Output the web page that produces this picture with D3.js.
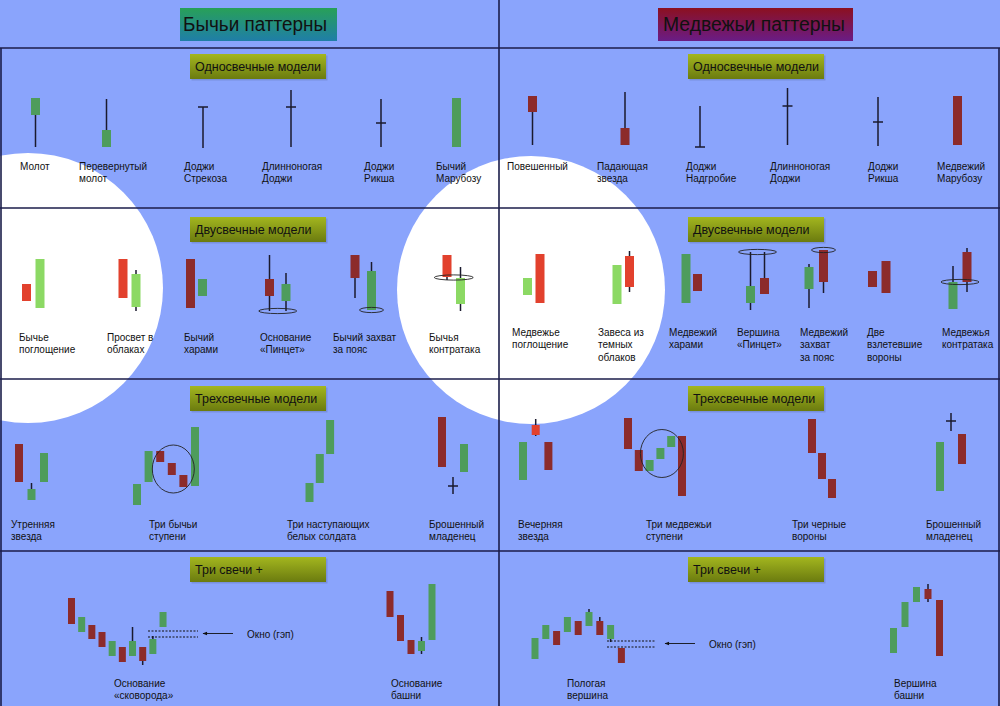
<!DOCTYPE html>
<html>
<head>
<meta charset="utf-8">
<script src="https://cdn.jsdelivr.net/npm/d3@7"></script>
<style>
  body { margin: 0; background: #8aa4fc; }
  svg { display: block; }
  text { font-family: "Liberation Sans", Arial, Helvetica, sans-serif; fill: #111; }
</style>
</head>
<body>
<svg id="chart"></svg>
<script>
var width = 1000;
var height = 706;

var sideTitles = ["Бычьи паттерны", "Медвежьи паттерны"];
var sectionTitles = ["Односвечные модели", "Двусвечные модели", "Трехсвечные модели", "Три свечи +"];
var gapLabel = "Окно (гэп)";

// each candle is [open, high, low, close]
var bullSingleNames = ["Молот", "Перевернутый\nмолот", "Доджи\nСтрекоза", "Длинноногая\nДоджи", "Доджи\nРикша", "Бычий\nМарубозу"];
var bullSingle = [
  [[35, 52, 3, 52]],
  [[3, 51, 3, 20]],
  [[43, 43, 2, 43]],
  [[43, 60, 3, 43]],
  [[27, 51, 3, 27]],
  [[3, 52, 3, 52]]
];

var bearSingleNames = ["Повешенный", "Падающая\nзвезда", "Доджи\nНадгробие", "Длинноногая\nДоджи", "Доджи\nРикша", "Медвежий\nМарубозу"];
var bearSingle = [
  [[54, 54, 5, 38]],
  [[22, 58, 5, 5]],
  [[3, 44, 3, 3]],
  [[44, 62, 5, 44]],
  [[28, 53, 4, 28]],
  [[54, 54, 5, 5]]
];

var bullDoubleNames = ["Бычье\nпоглощение", "Просвет в\nоблаках", "Бычий\nхарами", "Основание\n«Пинцет»", "Бычий захват\nза пояс", "Бычья\nконтратака"];
var bullDouble = [
  [[31, 31, 14, 14], [7, 56, 7, 56]],
  [[56, 56, 17, 17], [8, 45, 4, 41]],
  [[56, 56, 7, 7], [19, 36, 19, 36]],
  [[36, 60, 4, 19], [14, 42, 4, 31]],
  [[60, 60, 17, 37], [5, 53, 5, 44]],
  [[60, 60, 35, 38], [11, 48, 4, 37]]
];

var bearDoubleNames = ["Медвежье\nпоглощение", "Завеса из\nтемных\nоблаков", "Медвежий\nхарами", "Вершина\n«Пинцет»", "Медвежий\nзахват\nза пояс", "Две\nвзлетевшие\nвороны", "Медвежья\nконтратака"];
var bearDouble = [
  [[20, 37, 20, 37], [61, 61, 12, 12]],
  [[11, 50, 11, 50], [59, 64, 23, 28]],
  [[12, 61, 12, 61], [41, 41, 24, 24]],
  [[12, 63, 5, 29], [37, 63, 21, 21]],
  [[26, 51, 7, 48], [65, 65, 22, 33]],
  [[44, 44, 28, 28], [54, 54, 22, 22]],
  [[6, 49, 6, 33], [63, 67, 23, 33]]
];

var bullTripleNames = ["Утренняя\nзвезда", "Три бычьи\nступени", "Три наступающих\nбелых солдата", "Брошенный\nмладенец"];
var bullTriple = [
  [[61, 61, 23, 23], [5, 22, 5, 16], [23, 52, 23, 52]],
  [[0, 21, 0, 21], [23, 54, 23, 54], [54, 54, 43, 43], [42, 42, 30, 30], [30, 30, 18, 18], [19, 78, 19, 78]],
  [[3, 22, 3, 22], [22, 51, 22, 51], [51, 85, 51, 85]],
  [[88, 88, 38, 38], [19, 28, 11, 19], [33, 61, 33, 61]]
];

var bearTripleNames = ["Вечерняя\nзвезда", "Три медвежьи\nступени", "Три черные\nвороны", "Брошенный\nмладенец"];
var bearTriple = [
  [[25, 63, 25, 63], [80, 86, 69, 70], [63, 63, 35, 35]],
  [[87, 87, 56, 56], [55, 55, 34, 34], [34, 45, 34, 45], [46, 57, 46, 57], [58, 69, 58, 69], [69, 69, 9, 9]],
  [[86, 86, 52, 52], [52, 52, 26, 26], [26, 26, 7, 7]],
  [[14, 63, 14, 63], [84, 92, 74, 84], [71, 71, 41, 41]]
];

var bullMultiNames = ["Основание\n«сковорода»", "Основание\nбашни"];
var bullMulti = [
  [[72, 72, 46, 46], [38, 53, 38, 53], [45, 45, 31, 31], [38, 38, 23, 23], [14, 29, 14, 29],
   [23, 23, 8, 8], [14, 43, 14, 29], [23, 23, 5, 9], [16, 34, 16, 31], [43, 58, 43, 58]],
  [[79, 79, 53, 53], [55, 55, 29, 29], [30, 30, 16, 16], [19, 33, 16, 29], [30, 86, 30, 86]]
];

var bearMultiNames = ["Пологая\nвершина", "Вершина\nбашни"];
var bearMulti = [
  [[11, 32, 11, 32], [31, 45, 31, 45], [39, 39, 25, 25], [38, 53, 38, 53], [49, 49, 35, 35],
   [44, 61, 44, 58], [49, 53, 35, 35], [31, 45, 28, 45], [22, 22, 7, 7]],
  [[17, 42, 17, 42], [43, 68, 43, 68], [68, 83, 68, 83], [81, 86, 68, 71], [70, 70, 14, 14]]
];

// gap levels (upper, lower) of the "window"
var bullGap = [39, 33];
var bearGap = [29, 23];

// ---------- layout ----------
var bg = "#8aa4fc";
var lineColor = "#1b1d4a";
var wickColor = "#1a1a2e";
var colors = { bull: "#4e9c5c", bullLight: "#8cd964", bear: "#8c2b2b", bearLight: "#e2412d" };
var whiteSpots = [[28, 288, 135], [531, 290, 134]];

var rowLines = [48, 208, 379, 551];
var rowBase = [150, 315, 505, 670];
var bodyW = [9, 9, 8, 7];
var sectionY = [54, 217, 386, 557];
var sectionX = [190, 688];
var labelY = [[170, 170], [341, 336], [528, 528], [687, 687]];

var groups = [
  { row: 0, side: 0, names: bullSingleNames, candles: bullSingle,
    x0: [35.5, 106.5, 203, 291, 381, 456.5], step: 12, labelX: [20, 79, 184, 262, 364, 436] },
  { row: 0, side: 1, names: bearSingleNames, candles: bearSingle,
    x0: [532.5, 625, 700, 787.5, 878, 957.5], step: 12, labelX: [507, 597, 686, 770, 868, 937] },
  { row: 1, side: 0, names: bullDoubleNames, candles: bullDouble,
    x0: [26.5, 123, 190.5, 269.5, 355, 447], step: [13.5, 13, 12, 16.5, 16.5, 13.5],
    labelX: [19, 107, 184, 260, 333, 429],
    marks: [{ i: 3, at: "low", rx: 19, pos: "mid" }, { i: 4, at: "low", rx: 12, pos: "last" }, { i: 5, at: "close", rx: 19.5, pos: "mid" }] },
  { row: 1, side: 1, names: bearDoubleNames, candles: bearDouble,
    x0: [527.5, 617, 686, 750.5, 809, 872.5, 953], step: [12.5, 12.5, 11.5, 14, 14.5, 13.5, 14],
    labelX: [512, 598, 669, 737, 800, 867, 942],
    marks: [{ i: 3, at: "high", rx: 19, pos: "mid" }, { i: 4, at: "high", rx: 12, pos: "last" }, { i: 6, at: "close", rx: 19, pos: "mid" }] },
  { row: 2, side: 0, names: bullTripleNames, candles: bullTriple,
    x0: [19, 137, 309.5, 442], step: [12.5, 11.6, 10.3, 11], labelX: [11, 149, 287, 429],
    ring: { i: 1, from: 2, to: 4, rx: 21, ry: 24 } },
  { row: 2, side: 1, names: bearTripleNames, candles: bearTriple,
    x0: [523, 628, 812, 940], step: [12.7, 10.8, 10, 11], labelX: [518, 646, 792, 926],
    ring: { i: 1, from: 2, to: 4, rx: 21.5, ry: 24 } },
  { row: 3, side: 0, names: bullMultiNames, candles: bullMulti,
    x0: [71.5, 390], step: [10.17, 10.5], labelX: [114, 391],
    gap: { i: 0, levels: bullGap, x0: 148, x1: 198, arrowFrom: 233, arrowTo: 203, labelX: 247 } },
  { row: 3, side: 1, names: bearMultiNames, candles: bearMulti,
    x0: [535, 893.5], step: [10.8, 11.5], labelX: [567, 894],
    gap: { i: 0, levels: bearGap, x0: 607, x1: 656, arrowFrom: 695, arrowTo: 665, labelX: 709 } }
];

var svg = d3.select("#chart")
    .attr("width", width)
    .attr("height", height);

var defs = svg.append("defs");
function vGrad(id, top, bottom) {
  var g = defs.append("linearGradient").attr("id", id)
      .attr("x1", 0).attr("y1", 0).attr("x2", 0).attr("y2", 1);
  g.append("stop").attr("offset", "0%").attr("stop-color", top);
  g.append("stop").attr("offset", "100%").attr("stop-color", bottom);
}
vGrad("gBull", "#28a058", "#1f7ea8");
vGrad("gBear", "#8c1020", "#6a1c86");
vGrad("gSection", "#a3b61f", "#6b7b0f");

defs.append("marker").attr("id", "arrow")
    .attr("viewBox", "0 0 10 10").attr("refX", 9).attr("refY", 5)
    .attr("markerWidth", 7).attr("markerHeight", 5).attr("orient", "auto")
  .append("path").attr("d", "M0,1L10,5L0,9Z").attr("fill", "#111");

svg.append("rect").attr("width", width).attr("height", height).attr("fill", bg);

svg.selectAll("circle.spot")
    .data(whiteSpots)
    .enter().append("circle")
    .attr("class", "spot")
    .attr("cx", function(d) { return d[0]; })
    .attr("cy", function(d) { return d[1]; })
    .attr("r", function(d) { return d[2]; })
    .attr("fill", "#ffffff");

function inSpot(x, y) {
  return whiteSpots.some(function(s) {
    return (x - s[0]) * (x - s[0]) + (y - s[1]) * (y - s[1]) <= s[2] * s[2];
  });
}

// grid
svg.selectAll("line.row")
    .data(rowLines)
    .enter().append("line")
    .attr("x1", 0).attr("x2", width)
    .attr("y1", function(d) { return d; })
    .attr("y2", function(d) { return d; })
    .attr("stroke", lineColor).attr("stroke-width", 1.6);
[[499, 0], [1, 48], [999, 48]].forEach(function(v) {
  svg.append("line").attr("x1", v[0]).attr("x2", v[0]).attr("y1", v[1]).attr("y2", height)
      .attr("stroke", lineColor).attr("stroke-width", 1.6);
});

// top titles
var heads = [{ x: 180, w: 157, fill: "url(#gBull)", tx: 183, tl: 144 },
             { x: 658, w: 195, fill: "url(#gBear)", tx: 663, tl: 182 }];
heads.forEach(function(h, i) {
  svg.append("rect").attr("x", h.x).attr("y", 8).attr("width", h.w).attr("height", 33).attr("fill", h.fill);
  svg.append("text").attr("x", h.tx).attr("y", 31)
      .attr("font-size", 20)
      .attr("textLength", h.tl).attr("lengthAdjust", "spacingAndGlyphs")
      .text(sideTitles[i]);
});

// section title boxes
sectionTitles.forEach(function(t, r) {
  sectionX.forEach(function(x) {
    svg.append("rect").attr("x", x + 1.5).attr("y", sectionY[r] + 1.5)
        .attr("width", 136).attr("height", 25).attr("fill", "#000").attr("opacity", 0.12);
    svg.append("rect").attr("x", x).attr("y", sectionY[r])
        .attr("width", 136).attr("height", 25).attr("fill", "url(#gSection)");
    svg.append("text").attr("x", x + 5).attr("y", sectionY[r] + 17)
        .attr("font-size", 12.5).text(t);
  });
});

// candles
groups.forEach(function(g) {
  var y = d3.scaleLinear().domain([0, 100]).range([rowBase[g.row], rowBase[g.row] - 100]);
  var bw = bodyW[g.row];

  g.candles.forEach(function(cs, i) {
    var step = Array.isArray(g.step) ? g.step[i] : g.step;
    var x = d3.scaleLinear().domain([0, 1]).range([g.x0[i], g.x0[i] + step]);
    var data = cs.map(function(d, k) { return { t: k, o: d[0], h: d[1], l: d[2], c: d[3] }; });
    var fill = function(d) {
      var light = inSpot(x(d.t), y(d.h));
      if (d.c > d.o) return light ? colors.bullLight : colors.bull;
      return light ? colors.bearLight : colors.bear;
    };
    var gp = svg.append("g");

    gp.selectAll("line.wick")
        .data(data.filter(function(d) { return d.h > d.l; }))
        .enter().append("line")
        .attr("x1", function(d) { return x(d.t); })
        .attr("x2", function(d) { return x(d.t); })
        .attr("y1", function(d) { return y(d.h); })
        .attr("y2", function(d) { return y(d.l); })
        .attr("stroke", wickColor).attr("stroke-width", 1.5);

    gp.selectAll("rect")
        .data(data.filter(function(d) { return d.o !== d.c; }))
        .enter().append("rect")
        .attr("x", function(d) { return x(d.t) - bw / 2; })
        .attr("y", function(d) { return y(Math.max(d.o, d.c)); })
        .attr("width", bw)
        .attr("height", function(d) { return Math.abs(y(d.o) - y(d.c)); })
        .attr("fill", fill);

    gp.selectAll("line.doji")
        .data(data.filter(function(d) { return d.o === d.c; }))
        .enter().append("line")
        .attr("x1", function(d) { return x(d.t) - 5; })
        .attr("x2", function(d) { return x(d.t) + 5; })
        .attr("y1", function(d) { return y(d.o); })
        .attr("y2", function(d) { return y(d.o); })
        .attr("stroke", wickColor).attr("stroke-width", 1.5);

    // label
    var lines = g.names[i].split("\n");
    var txt = svg.append("text").attr("x", g.labelX[i]).attr("y", labelY[g.row][g.side]).attr("font-size", 10);
    lines.forEach(function(s, k) {
      txt.append("tspan").attr("x", g.labelX[i]).attr("dy", k === 0 ? 0 : 12.3).text(s);
    });
  });

  // ellipses that mark a shared level
  (g.marks || []).forEach(function(m) {
    var cs = g.candles[m.i];
    var step = Array.isArray(g.step) ? g.step[m.i] : g.step;
    var x = d3.scaleLinear().domain([0, 1]).range([g.x0[m.i], g.x0[m.i] + step]);
    var level;
    if (m.at === "low") level = d3.min(cs, function(d) { return d[2]; });
    else if (m.at === "high") level = d3.max(cs, function(d) { return d[1]; });
    else level = d3.mean(cs, function(d) { return d[3]; });
    var cx = m.pos === "last" ? x(cs.length - 1) : x((cs.length - 1) / 2);
    svg.append("ellipse").attr("cx", cx).attr("cy", y(level))
        .attr("rx", m.rx).attr("ry", 2.6)
        .attr("fill", "none").attr("stroke", "#222").attr("stroke-width", 0.9);
  });

  // ring round the middle candles
  if (g.ring) {
    var r = g.ring, cs = g.candles[r.i];
    var step = Array.isArray(g.step) ? g.step[r.i] : g.step;
    var x = d3.scaleLinear().domain([0, 1]).range([g.x0[r.i], g.x0[r.i] + step]);
    var part = cs.slice(r.from, r.to + 1);
    var top = d3.max(part, function(d) { return Math.max(d[0], d[3]); });
    var bot = d3.min(part, function(d) { return Math.min(d[0], d[3]); });
    svg.append("ellipse")
        .attr("cx", x((r.from + r.to) / 2) + 1.5)
        .attr("cy", (y(top) + y(bot)) / 2)
        .attr("rx", r.rx).attr("ry", r.ry)
        .attr("fill", "none").attr("stroke", "#222").attr("stroke-width", 0.9);
  }

  // gap window with arrow
  if (g.gap) {
    var gp = g.gap;
    svg.selectAll(null)
        .data(gp.levels)
        .enter().append("line")
        .attr("x1", gp.x0).attr("x2", gp.x1)
        .attr("y1", function(d) { return y(d); })
        .attr("y2", function(d) { return y(d); })
        .attr("stroke", "#111").attr("stroke-width", 1)
        .attr("stroke-dasharray", "2,1.5");
    var mid = y(d3.mean(gp.levels)) - 0.5;
    svg.append("line").attr("x1", gp.arrowFrom).attr("x2", gp.arrowTo)
        .attr("y1", mid).attr("y2", mid)
        .attr("stroke", "#111").attr("stroke-width", 0.9)
        .attr("marker-end", "url(#arrow)");
    svg.append("text").attr("x", gp.labelX).attr("y", mid + 4).attr("font-size", 10).text(gapLabel);
  }
});
</script>
</body>
</html>
